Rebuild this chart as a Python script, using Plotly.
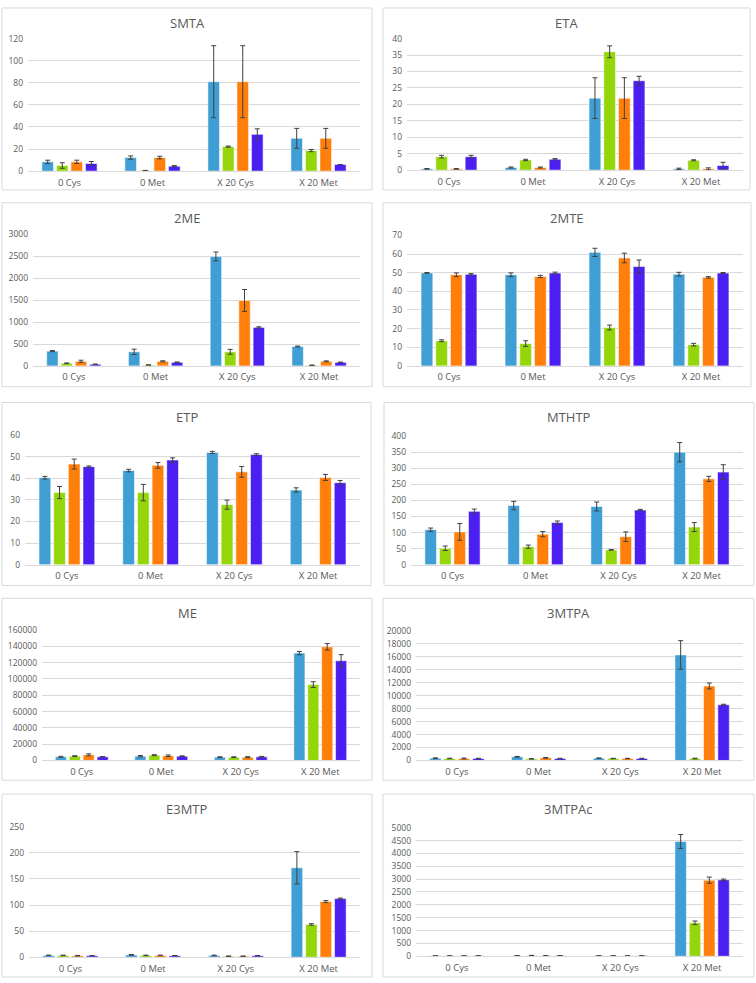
import plotly.graph_objects as go

W, H = 756, 983

categories = ["0 Cys", "0 Met", "X 20 Cys", "X 20 Met"]
series_names = ["Series 1", "Series 2", "Series 3", "Series 4"]
series_colors = ["#3f9fd4", "#94d60a", "#ff7f0a", "#4b1ff2"]

titles = ["SMTA", "ETA", "2ME", "2MTE", "ETP", "MTHTP", "ME", "3MTPA", "E3MTP", "3MTPAc"]
y_max = [120, 40, 3000, 70, 60, 400, 160000, 20000, 250, 5000]
y_step = [20, 5, 500, 10, 10, 50, 20000, 2000, 50, 500]

# values: one list per series, each over the 4 categories
SMTA_val = [[8.4, 12.3, 81, 29.7], [5.1, 0.5, 22.2, 18.6], [8.4, 12.3, 81, 29.7], [6.9, 4.5, 33.3, 6.0]]
SMTA_err = [[1.5, 1.5, 32.6, 9], [2.5, 0.2, 0.5, 1], [1.5, 1.2, 32.6, 9], [1.8, 0.5, 5, None]]
ETA_val = [[0.4, 0.8, 21.9, 0.4], [4.1, 3.1, 36.0, 3.0], [0.4, 0.8, 21.9, 0.4], [4.1, 3.3, 27.2, 1.4]]
ETA_err = [[0.1, 0.15, 6.2, 0.2], [0.4, 0.2, 1.8, 0.15], [0.1, 0.15, 6.2, 0.3], [0.4, 0.2, 1.35, 1.0]]
ME2_val = [[338, 322, 2498, 443], [60, 22, 322, 15], [105, 105, 1493, 105], [38, 82, 878, 82]]
ME2_err = [[12, 60, 100, 10], [8, 3, 55, 3], [25, 12, 250, 10], [5, 8, 15, 5]]
MTE2_val = [[49.9, 48.9, 60.9, 49.2], [13.5, 12.0, 20.6, 11.4], [48.9, 48.0, 57.9, 47.5], [49.1, 49.8, 53.3, 49.8]]
MTE2_err = [[0.2, 1.0, 2.2, 1.0], [0.5, 1.5, 1.3, 0.7], [1.0, 0.6, 2.6, 0.4], [0.4, 0.5, 3.5, 0.3]]
ETP_val = [[40.3, 43.6, 52.0, 34.6], [33.4, 33.4, 27.8, None], [46.6, 46.0, 43.0, 40.4], [45.4, 48.5, 51.0, 38.0]]
ETP_err = [[0.6, 0.6, 0.5, 1.0], [2.8, 3.8, 2.1, None], [2.3, 1.3, 2.5, 1.4], [0.3, 1.0, 0.4, 1.0]]
MTHTP_val = [[109, 184, 181, 350], [51, 56, 46, 117], [102, 95, 87, 267], [166, 131, 170, 288]]
MTHTP_err = [[5, 13, 14, 30], [7, 5, 1, 14], [26, 8, 15, 8], [7, 5, 2, 23]]
ME_val = [[4470, 5300, 4060, 131600], [5300, 6500, 4060, 93000], [6900, 5700, 4060, 139300], [4470, 5300, 4470, 122200]]
ME_err = [[600, 800, 500, 2000], [500, 600, 400, 3500], [1200, 1000, 600, 4000], [300, 300, 500, 7500]]
MTPA3_val = [[354, 557, 354, 16300], [304, 253, 304, 304], [304, 405, 304, 11500], [304, 304, 304, 8600]]
MTPA3_err = [[50, 60, 30, 2200], [40, 40, 30, 50], [60, 60, 30, 450], [30, 30, 30, 80]]
E3MTP_val = [[3.5, 4.5, 3.5, 171.3], [3.5, 3.5, 2.0, 62.8], [3.0, 3.5, 2.0, 106.6], [3.0, 3.0, 3.0, 112.3]]
E3MTP_err = [[0.5, 0.8, 0.5, 31], [0.5, 0.5, 0.3, 1.5], [0.5, 0.5, 0.3, 2], [0.3, 0.3, 0.3, 1]]
MTPAc3_val = [[15, 20, 15, 4464], [15, 30, 15, 1301], [15, 20, 15, 2959], [15, 20, 15, 2972]]
MTPAc3_err = [[3, 3, 3, 270], [3, 5, 3, 70], [3, 3, 3, 120], [3, 3, 3, 30]]

panel_vals = [SMTA_val, ETA_val, ME2_val, MTE2_val, ETP_val, MTHTP_val, ME_val, MTPA3_val, E3MTP_val, MTPAc3_val]
panel_errs = [SMTA_err, ETA_err, ME2_err, MTE2_err, ETP_err, MTHTP_err, ME_err, MTPA3_err, E3MTP_err, MTPAc3_err]

# layout geometry (pixels): panel boxes and plot areas
boxes = [(2, 2, 372, 186), (383, 2, 750, 186),
         (2, 199, 372, 385), (383, 199, 751, 385),
         (2, 401, 371, 586), (384, 401, 754, 586),
         (2, 599, 372, 783), (383, 599, 754, 783),
         (2, 797, 372, 982), (383, 797, 754, 982)]
areas = [(28, 33, 360, 167), (407, 33, 743, 166),
         (33, 231, 360, 364), (407, 232, 743, 364),
         (25, 434, 360, 565), (411, 435, 743, 565),
         (42, 631, 360, 763), (416, 632, 743, 763),
         (29, 830, 360, 962), (416, 831, 743, 961)]

FONT = "Open Sans"
TXT = "#595959"
GRID = "#d9d9d9"

fig = go.Figure()
shapes = []
annotations = []

for i in range(10):
    ax = "" if i == 0 else str(i + 1)
    x0, y0, x1, y1 = areas[i]
    for s in range(4):
        fig.add_trace(go.Bar(
            x=categories, y=panel_vals[i][s], name=series_names[s],
            marker=dict(color=series_colors[s], line=dict(color="rgba(255,255,255,0.55)", width=1)),
            error_y=dict(type="data", array=panel_errs[i][s], visible=True,
                         color="#404040", thickness=1, width=2.5),
            xaxis="x" + ax, yaxis="y" + ax, showlegend=False,
        ))
    fig.layout["xaxis" + ax] = dict(
        domain=[x0 / W, x1 / W], anchor="y" + ax, type="category",
        range=[-0.5, 3.5], showgrid=False, showline=True, linecolor=GRID,
        linewidth=1, ticks="", tickfont=dict(family=FONT, size=9.5, color=TXT),
        ticklabelstandoff=2, fixedrange=True,
    )
    fig.layout["yaxis" + ax] = dict(
        domain=[1 - y1 / H, 1 - y0 / H], anchor="x" + ax,
        range=[0, y_max[i]], dtick=y_step[i], tick0=0,
        showgrid=True, gridcolor=GRID, gridwidth=1, zeroline=False,
        showline=False, ticks="", tickformat="d",
        tickfont=dict(family=FONT, size=8.5, color=TXT), ticklabelstandoff=4,
        fixedrange=True,
    )
    bx0, by0, bx1, by1 = boxes[i]
    shapes.append(dict(type="rect", xref="paper", yref="paper",
                       x0=bx0 / W, x1=bx1 / W, y0=1 - by1 / H, y1=1 - by0 / H,
                       line=dict(color=GRID, width=1), fillcolor="rgba(0,0,0,0)",
                       layer="below"))
    annotations.append(dict(text=titles[i], xref="paper", yref="paper",
                            x=(bx0 + bx1) / 2 / W, y=1 - (by0 + 15) / H,
                            xanchor="center", yanchor="middle", showarrow=False,
                            font=dict(family=FONT, size=13, color=TXT)))

fig.update_layout(
    width=W, height=H, margin=dict(l=0, r=0, t=0, b=0),
    paper_bgcolor="white", plot_bgcolor="white",
    barmode="group", bargap=0.3, bargroupgap=0.2,
    shapes=shapes, annotations=annotations, showlegend=False,
)

fig.write_html("out.html", include_plotlyjs=True,
               config={"displayModeBar": False},
               post_script="document.body.style.margin='0';")
